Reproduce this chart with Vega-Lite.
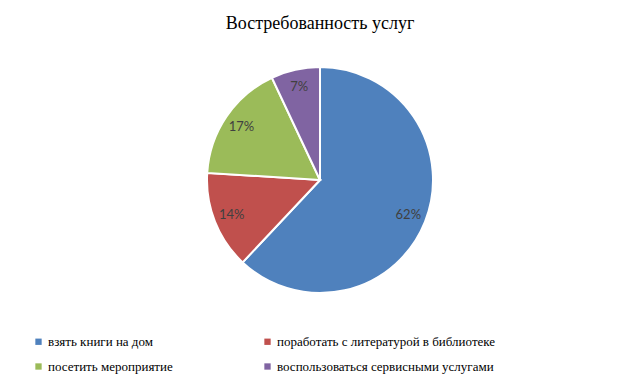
{
  "$schema": "https://vega.github.io/schema/vega-lite/v6.json",
  "width": 640,
  "height": 270,
  "autosize": {"type": "none"},
  "padding": {"top": 45, "bottom": 70, "left": 0, "right": 0},
  "background": "white",
  "title": {"text": "Востребованность услуг", "font": "Liberation Serif", "fontSize": 18, "fontWeight": "normal", "color": "#000000", "anchor": "middle", "offset": 12},
  "data": {"values": [
    {"cat": "взять книги на дом", "value": 62, "label": "62%", "ord": 1},
    {"cat": "поработать с литературой в библиотеке", "value": 14, "label": "14%", "ord": 2},
    {"cat": "посетить мероприятие", "value": 17, "label": "17%", "ord": 3},
    {"cat": "воспользоваться сервисными услугами", "value": 7, "label": "7%", "ord": 4}
  ]},
  "encoding": {
    "theta": {"field": "value", "type": "quantitative", "stack": true},
    "order": {"field": "ord", "type": "ordinal"}
  },
  "layer": [
    {
      "mark": {"type": "arc", "outerRadius": 113, "stroke": "white", "strokeWidth": 2},
      "encoding": {
        "color": {
          "field": "cat", "type": "nominal",
          "scale": {"domain": ["взять книги на дом", "посетить мероприятие", "поработать с литературой в библиотеке", "воспользоваться сервисными услугами"], "range": ["#4F81BD", "#9BBB59", "#C0504D", "#8064A2"]},
          "legend": {"orient": "none", "legendX": 32, "legendY": 290, "columns": 2, "columnPadding": 88, "rowPadding": 11, "symbolType": "square", "symbolSize": 40, "symbolStrokeWidth": 0, "labelFont": "Liberation Serif", "labelFontSize": 13, "labelColor": "#000000", "labelLimit": 400, "labelOffset": 3, "title": null, "padding": 0}
        }
      }
    },
    {
      "mark": {"type": "text", "radius": 95, "font": "Lato", "fontSize": 13, "fill": "#404040"},
      "encoding": {"text": {"field": "label", "type": "nominal"}}
    }
  ],
  "config": {"view": {"stroke": null}}
}
